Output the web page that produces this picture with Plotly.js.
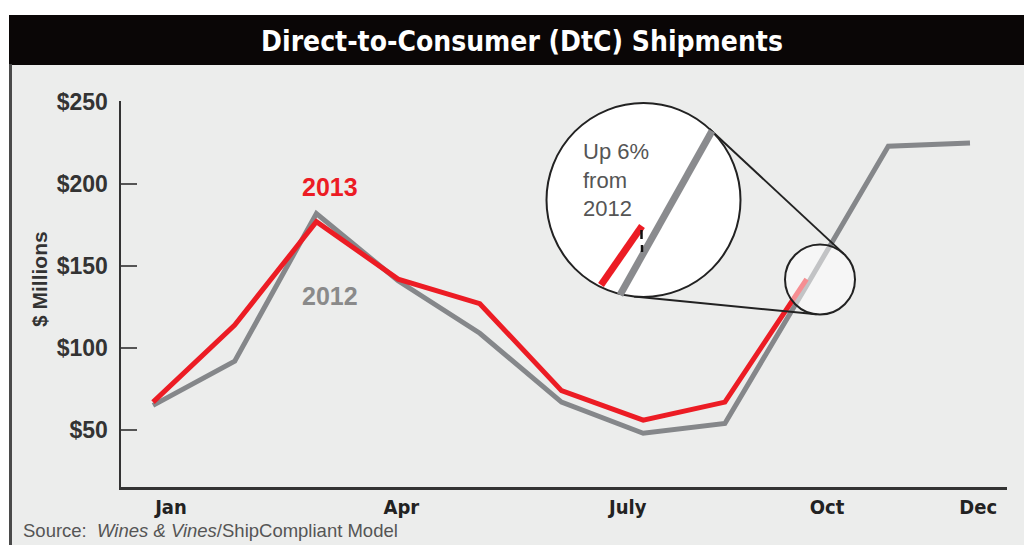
<!DOCTYPE html>
<html>
<head>
<meta charset="utf-8">
<script src="https://cdn.plot.ly/plotly-3.0.1.min.js"></script>
<style>
  html, body { margin: 0; padding: 0; background: #ffffff; }
  #chart { width: 1024px; height: 545px; }
</style>
</head>
<body>
<div id="chart"></div>
<script>
// ---- data ----
const monthIdx2012 = [1, 2, 3, 4, 5, 6, 7, 8, 9, 10, 11];
const ship2012 = [65, 92, 182, 141, 109, 67, 48, 54, 138, 223, 225];
const monthIdx2013 = [1, 2, 3, 4, 5, 6, 7, 8, 9];
const ship2013 = [67, 114, 177, 142, 127, 74, 56, 67, 142];
const xTickText = ['Jan', 'Apr', 'July', 'Oct', 'Dec'];
const xTickPos = [1.22, 4.04, 6.81, 9.25, 11.1];
const yTickVals = [50, 100, 150, 200, 250];
const yTickText = ['$50', '$100', '$150', '$200', '$250'];
const seriesNames = ['2012', '2013'];

// ---- layout geometry (pixels) ----
const W = 1024, H = 545;
const L = 121, R = 17, T = 101, B = 58;
const PW = W - L - R, PH = H - T - B;
const px = x => (x - L) / PW;
const py = y => (H - B - y) / PH;

const GRAY = '#85878a';
const RED = '#ec1c24';
const COND = 'DejaVu Sans Condensed, Liberation Sans Narrow, sans-serif';
const SANS = 'Liberation Sans, Arial, sans-serif';

const traces = [
  { x: monthIdx2012, y: ship2012, name: seriesNames[0], type: 'scatter', mode: 'lines',
    line: { color: GRAY, width: 5, shape: 'linear' }, hoverinfo: 'skip' },
  { x: monthIdx2013, y: ship2013, name: seriesNames[1], type: 'scatter', mode: 'lines',
    line: { color: RED, width: 5, shape: 'linear' }, hoverinfo: 'skip' }
];

// magnifier geometry
const big = { cx: 643.5, cy: 200, r: 97 };
const small = { cx: 820, cy: 279.5, r: 35 };
function circleShape(c, fill, layer) {
  return { type: 'circle', xref: 'paper', yref: 'paper', layer: layer,
    x0: px(c.cx - c.r), x1: px(c.cx + c.r), y0: py(c.cy + c.r), y1: py(c.cy - c.r),
    fillcolor: fill, line: { color: '#222222', width: 2 } };
}
function lineShape(x0, y0, x1, y1, color, width) {
  return { type: 'line', xref: 'paper', yref: 'paper', layer: 'above',
    x0: px(x0), y0: py(y0), x1: px(x1), y1: py(y1), line: { color: color, width: width } };
}
// external tangents between the two circles
function tangents(a, b) {
  const dx = b.cx - a.cx, dy = b.cy - a.cy;
  const d = Math.hypot(dx, dy);
  const base = Math.atan2(dy, dx);
  const th = Math.acos((a.r - b.r) / d);
  return [base - th, base + th].map(ang => {
    const nx = Math.cos(ang), ny = Math.sin(ang);
    return [a.cx + a.r * nx, a.cy + a.r * ny, b.cx + b.r * nx, b.cy + b.r * ny];
  });
}
const tans = tangents(big, small);

const shapes = [
  // chart panel background
  { type: 'rect', xref: 'paper', yref: 'paper', layer: 'below',
    x0: px(9), x1: px(1030), y0: py(550), y1: py(64),
    fillcolor: '#ecedec', line: { width: 0 } },
  // title bar
  { type: 'rect', xref: 'paper', yref: 'paper', layer: 'below',
    x0: px(9), x1: px(1030), y0: py(65), y1: py(15),
    fillcolor: '#0a0606', line: { width: 0 } },
  // left border
  { type: 'line', xref: 'paper', yref: 'paper', layer: 'below',
    x0: px(10.5), x1: px(10.5), y0: py(550), y1: py(64),
    line: { color: '#4a4a4a', width: 3 } },
  // tangent lines
  lineShape(tans[0][0], tans[0][1], tans[0][2], tans[0][3], '#222222', 2),
  lineShape(tans[1][0], tans[1][1], tans[1][2], tans[1][3], '#222222', 2),
  // big circle
  circleShape(big, '#ffffff', 'above'),
  // magnified lines
  lineShape(620, 295, 712, 131, '#8a8b8e', 7),
  lineShape(601, 285, 642, 226, RED, 7),
  lineShape(641.5, 230, 641.5, 239, '#111111', 2.5),
  lineShape(642, 245, 642, 252, '#111111', 2.5),
  // small circle (lens)
  circleShape(small, 'rgba(255,255,255,0.5)', 'above')
];

const annotations = [
  { text: '2013', xref: 'paper', yref: 'paper', x: px(330), y: py(187), showarrow: false,
    xanchor: 'center', yanchor: 'middle',
    font: { family: SANS, size: 25, color: RED, weight: 'bold' } },
  { text: '2012', xref: 'paper', yref: 'paper', x: px(330), y: py(296), showarrow: false,
    xanchor: 'center', yanchor: 'middle',
    font: { family: SANS, size: 25, color: '#8a8a8a', weight: 'bold' } },
  { text: 'Up 6%<br>from<br>2012', xref: 'paper', yref: 'paper', x: px(581), y: py(180), showarrow: false,
    xanchor: 'left', yanchor: 'middle', align: 'left',
    font: { family: SANS, size: 22, color: '#555555' } },
  { text: '$ Millions', xref: 'paper', yref: 'paper', x: px(39), y: py(279), showarrow: false,
    textangle: -90, xanchor: 'center', yanchor: 'middle',
    font: { family: SANS, size: 21, color: '#333333', weight: 'bold' } },
  { text: 'Source:  <i>Wines &amp; Vines</i>/ShipCompliant Model', xref: 'paper', yref: 'paper',
    x: px(21), y: py(530), showarrow: false, xanchor: 'left', yanchor: 'middle',
    font: { family: SANS, size: 18.5, color: '#555555' } }
];

const layout = {
  width: W, height: H,
  margin: { l: L, r: R, t: T, b: B, pad: 0 },
  paper_bgcolor: '#ffffff',
  plot_bgcolor: 'rgba(0,0,0,0)',
  showlegend: false,
  title: {
    text: 'Direct-to-Consumer (DtC) Shipments',
    font: { family: COND, size: 28, color: '#ffffff', weight: 'bold' },
    xref: 'paper', x: px(522), xanchor: 'center',
    yref: 'container', y: 1 - 41 / H, yanchor: 'middle'
  },
  xaxis: {
    range: [1 - 32 / 81.7, 1 + (1007 - 153) / 81.7],
    showgrid: false, zeroline: false,
    showline: true, linecolor: '#333333', linewidth: 2.5,
    ticks: '', tickmode: 'array', tickvals: xTickPos, ticktext: xTickText,
    tickfont: { family: COND, size: 20, color: '#222222', weight: 'bold' },
    ticklabelstandoff: 0,
    fixedrange: true
  },
  yaxis: {
    range: [250 - (487 - 102) / 1.64, 250 + 1 / 1.64],
    showgrid: false, zeroline: false,
    showline: true, linecolor: '#333333', linewidth: 2.5,
    ticks: 'inside', ticklen: 16, tickwidth: 2.5, tickcolor: '#555555',
    tickmode: 'array', tickvals: yTickVals, ticktext: yTickText,
    tickfont: { family: SANS, size: 23, color: '#333333', weight: 'bold' },
    ticklabelstandoff: 6,
    fixedrange: true
  },
  shapes: shapes,
  annotations: annotations
};

Plotly.newPlot('chart', traces, layout, { staticPlot: true, displayModeBar: false });
</script>
</body>
</html>
